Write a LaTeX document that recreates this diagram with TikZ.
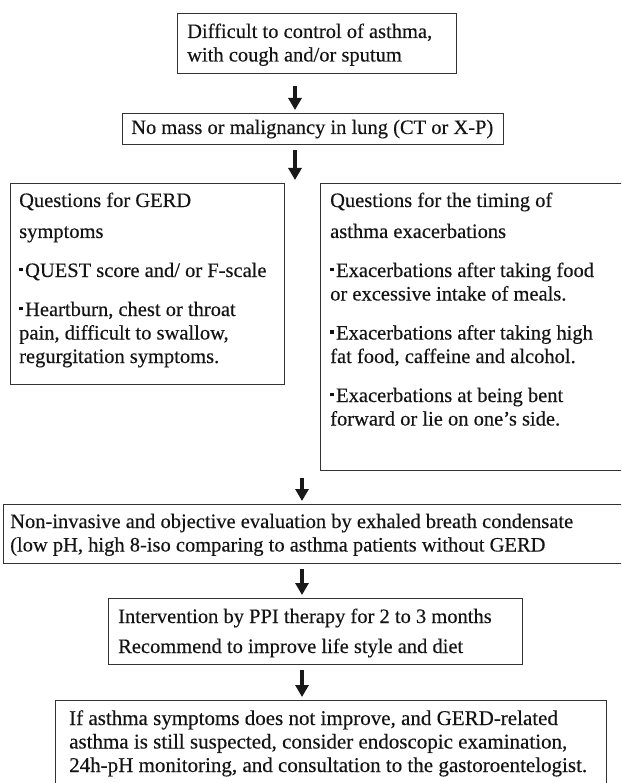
\documentclass[tikz,border=0pt]{standalone}
\usepackage{fontspec}
\setmainfont{Liberation Serif}[BoldFont={Liberation Serif}, BoldFeatures={FakeBold=0.3}]
\usetikzlibrary{arrows.meta}
\newcommand\bul{\rule[0.27em]{0.17em}{0.19em}\hspace{0.12em}}
\begin{document}
\begin{tikzpicture}[x=1pt,y=-1pt,
  box/.style={draw=black!80, line width=1.4pt, inner sep=0pt, anchor=north west},
  txt/.style={anchor=base west, inner sep=0pt, font=\fontsize{20.5}{23.5}\selectfont\bfseries, text=black!92},
  arr/.style={line width=3.2pt, draw=black!90, -{Triangle[length=12pt,width=13pt]}}]
\useasboundingbox (0,0) rectangle (621,783);
\clip (0,0) rectangle (621,783);

% boxes
\node[box, minimum width=279pt, minimum height=60pt] (b1) at (177,13) {};
\node[box, minimum width=381pt, minimum height=31pt] (b2) at (122,113) {};
\node[box, minimum width=274pt, minimum height=201pt] (b3l) at (10,183) {};
\node[box, minimum width=330pt, minimum height=287pt] (b3r) at (320,183) {};
\node[box, minimum width=640pt, minimum height=59pt] (b4) at (3,504) {};
\node[box, minimum width=414pt, minimum height=66pt] (b5) at (108,598) {};
\node[box, minimum width=551pt, minimum height=100pt] (b6) at (55,700) {};

% texts
\node[txt] (t1a) at (187,38) {Difficult to control of asthma,};
\node[txt] (t1b) at (187,61.5) {with cough and/or sputum};
\node[txt] (t2) at (131,134) {No mass or malignancy in lung (CT or X-P)};

\node[txt] (l1) at (19,207) {Questions for GERD};
\node[txt] (l2) at (19,238) {symptoms};
\node[txt] (l3) at (19,277) {\bul QUEST score and/ or F-scale};
\node[txt] (l4) at (19,316) {\bul Heartburn, chest or throat};
\node[txt] (l5) at (19,339.5) {pain, difficult to swallow,};
\node[txt] (l6) at (19,363) {regurgitation symptoms.};

\node[txt] (r1) at (330,207) {Questions for the timing of};
\node[txt] (r2) at (330,238) {asthma exacerbations};
\node[txt] (r3) at (330,277) {\bul Exacerbations after taking food};
\node[txt] (r4) at (330,300.5) {or excessive intake of meals.};
\node[txt] (r5) at (330,339.5) {\bul Exacerbations after taking high};
\node[txt] (r6) at (330,363) {fat food, caffeine and alcohol.};
\node[txt] (r7) at (330,402) {\bul Exacerbations at being bent};
\node[txt] (r8) at (330,425.5) {forward or lie on one’s side.};

\node[txt] (t4a) at (10,528) {Non-invasive and objective evaluation by exhaled breath condensate};
\node[txt] (t4b) at (10,551.5) {(low pH, high 8-iso comparing to asthma patients without GERD};

\node[txt] (t5a) at (118,623) {Intervention by PPI therapy for 2 to 3 months};
\node[txt] (t5b) at (118,653) {Recommend to improve life style and diet};

\begin{scope}[txt/.append style={font=\fontsize{21}{23.5}\selectfont\bfseries}]
\node[txt] (t6a) at (69,725) {If asthma symptoms does not improve, and GERD-related};
\node[txt] (t6b) at (69,748.5) {asthma is still suspected, consider endoscopic examination,};
\node[txt] (t6c) at (69,772) {24h-pH monitoring, and consultation to the gastoroentelogist.};
\end{scope}

% arrows
\coordinate (a1s) at (295,86);  \coordinate (a1e) at (295,110);
\coordinate (a2s) at (295,150); \coordinate (a2e) at (295,180);
\coordinate (a3s) at (302,478); \coordinate (a3e) at (302,501);
\coordinate (a4s) at (302,569); \coordinate (a4e) at (302,595);
\coordinate (a5s) at (302,670); \coordinate (a5e) at (302,697);
\draw[arr] (a1s) -- (a1e);
\draw[arr] (a2s) -- (a2e);
\draw[arr] (a3s) -- (a3e);
\draw[arr] (a4s) -- (a4e);
\draw[arr] (a5s) -- (a5e);
\end{tikzpicture}
\end{document}
